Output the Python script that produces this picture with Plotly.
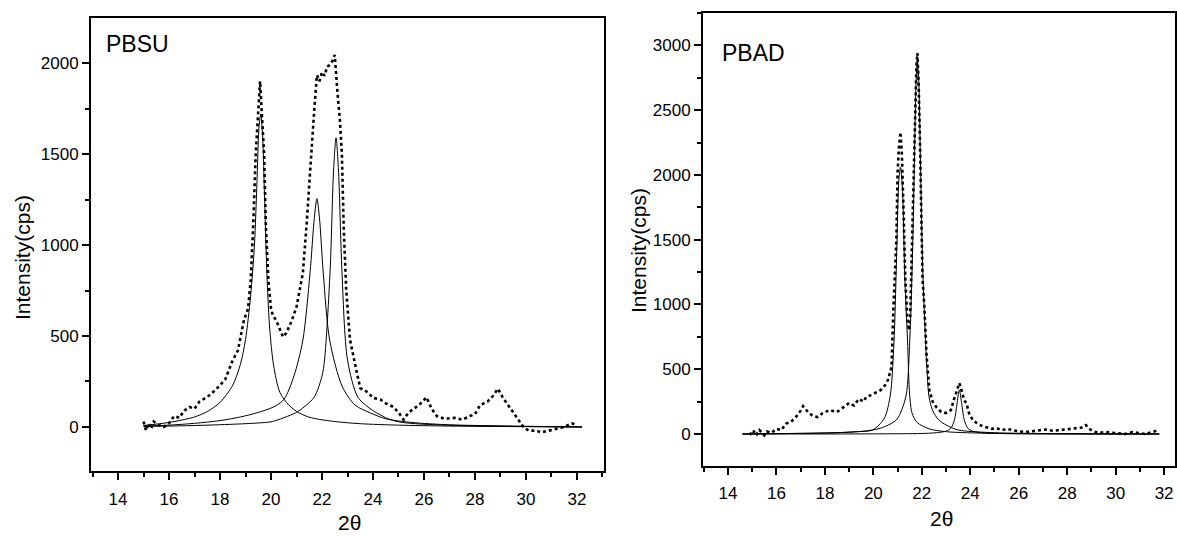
import plotly.graph_objects as go

# ---------------- PBSU (left panel) ----------------
pbsu_exp_x = [15.0, 15.1, 15.2, 15.3, 15.4, 15.5, 15.6, 15.8, 16.0, 16.2, 16.4, 16.6, 16.8, 17.0, 17.2,
              17.5, 17.8, 18.0, 18.2, 18.5, 18.7, 18.94, 19.1, 19.2, 19.3, 19.4, 19.48, 19.57, 19.65,
              19.73, 19.8, 19.9, 20.0, 20.08, 20.2, 20.35, 20.47, 20.6, 20.8, 21.0, 21.25, 21.4, 21.6,
              21.7, 21.8, 21.9, 22.0, 22.1, 22.2, 22.3, 22.4, 22.5, 22.6, 22.7, 22.78, 22.85, 22.95,
              23.1, 23.37, 23.5, 23.8, 24.0, 24.3, 24.5, 24.8, 25.0, 25.2, 25.4, 25.6, 25.8, 26.1,
              26.3, 26.5, 26.8, 27.2, 27.5, 27.8, 28.0, 28.2, 28.5, 28.7, 28.9, 29.1, 29.3, 29.5,
              29.7, 29.9, 30.1, 30.4, 30.6, 30.9, 31.2, 31.5, 31.8, 32.0]
pbsu_exp_y = [30, -20, 20, -10, 30, 20, 10, 0, 20, 60, 50, 90, 110, 100, 140,
              165, 200, 230, 260, 368, 420, 588, 650, 800, 1100, 1500, 1700, 1900, 1700,
              1500, 1100, 800, 650, 610, 588, 530, 495, 516, 580, 660, 846, 1121, 1577,
              1750, 1934, 1900, 1950, 1930, 1980, 1990, 2010, 2044, 1850, 1690, 1500, 1100, 750,
              478, 297, 214, 190, 160, 150, 130, 110, 80, 40, 80, 100, 120, 163,
              100, 60, 45, 50, 40, 60, 70, 120, 140, 170, 210, 160, 120, 80,
              40, 0, -20, -20, -30, -20, -10, 0, 20, 10]

pbsu_pk1_x = [15.0, 16.0, 17.0, 17.5, 18.0, 18.5, 18.8, 19.0, 19.2, 19.35, 19.45, 19.53, 19.6, 19.67,
              19.75, 19.85, 19.95, 20.1, 20.35, 20.7, 21.1, 21.6, 22.5, 23.5, 25.0, 27.0, 32.2]
pbsu_pk1_y = [8, 25, 55, 85, 135, 230, 345, 480, 720, 1000, 1350, 1650, 1720, 1600,
              1250, 800, 540, 340, 190, 120, 77, 50, 30, 18, 10, 5, 0]

pbsu_pk2_x = [15.0, 16.0, 17.0, 18.0, 18.8, 19.5, 20.1, 20.5, 20.9, 21.25, 21.53, 21.7, 21.8, 21.9,
              22.05, 22.3, 22.8, 23.3, 23.9, 24.5, 25.5, 27.0, 29.0, 32.2]
pbsu_pk2_y = [5, 10, 20, 35, 55, 80, 110, 150, 280, 478, 846, 1150, 1255, 1150,
              846, 478, 220, 120, 77, 45, 25, 12, 6, 0]

pbsu_pk3_x = [15.0, 17.0, 18.5, 19.5, 20.05, 20.95, 21.3, 21.7, 22.0, 22.1, 22.32, 22.45, 22.55,
              22.65, 22.78, 23.0, 23.4, 23.8, 24.15, 24.6, 25.06, 26.0, 28.0, 32.2]
pbsu_pk3_y = [3, 8, 15, 22, 30, 77, 110, 165, 280, 368, 863, 1400, 1590,
              1400, 863, 368, 165, 110, 77, 45, 27, 15, 6, 0]

# ---------------- PBAD (right panel) ----------------
pbad_exp_x = [14.9, 15.0, 15.1, 15.2, 15.3, 15.4, 15.5, 15.6, 15.8, 16.0, 16.2, 16.4, 16.6, 16.8, 17.0,
              17.1, 17.3, 17.5, 17.7, 17.9, 18.2, 18.5, 18.7, 19.0, 19.2, 19.4, 19.6, 19.7, 19.9,
              20.1, 20.3, 20.5, 20.6, 20.7, 20.75, 20.83, 20.95, 21.0, 21.05, 21.12, 21.18, 21.25,
              21.32, 21.4, 21.47, 21.52, 21.58, 21.65, 21.72, 21.78, 21.82, 21.87, 21.93, 21.98,
              22.03, 22.1, 22.2, 22.31, 22.45, 22.6, 22.8, 23.0, 23.2, 23.35, 23.5, 23.55, 23.65,
              23.75, 23.84, 23.95, 24.1, 24.3, 24.5, 24.66, 24.9, 25.07, 25.3, 25.5, 25.73, 26.0,
              26.3, 26.6, 26.9, 27.1, 27.4, 27.7, 28.0, 28.3, 28.6, 28.77, 28.9, 29.1, 29.3, 29.6,
              29.9, 30.2, 30.4, 30.7, 31.0, 31.2, 31.4, 31.6, 31.8]
pbad_exp_y = [10, -10, 30, 0, 30, 10, -10, 20, 10, 40, 30, 80, 93, 130, 180,
              215, 170, 140, 131, 160, 185, 170, 200, 239, 220, 270, 250, 285, 300,
              320, 339, 380, 417, 480, 517, 980, 1497, 2014, 2200, 2330, 2150, 1700,
              1200, 900, 800, 900, 1400, 2000, 2500, 2850, 2940, 2700, 2200, 1600,
              1200, 1000, 600, 339, 250, 208, 170, 162, 185, 280, 380, 393, 330,
              260, 239, 160, 108, 80, 60, 54, 40, 46, 30, 40, 31, 20,
              15, 20, 30, 35, 25, 30, 35, 40, 50, 69, 40, 20, 8, 15,
              10, 8, 0, 15, 8, 0, 10, 20, 31]

pbad_pk1_x = [14.6, 16.0, 17.5, 18.5, 19.3, 19.97, 20.45, 20.7, 20.85, 20.95, 21.05, 21.12, 21.2,
              21.3, 21.41, 21.5, 21.6, 21.8, 22.3, 23.0, 25.0, 31.8]
pbad_pk1_y = [0, 3, 6, 10, 18, 31, 120, 300, 700, 1300, 1950, 2060, 1900,
              1200, 725, 300, 160, 90, 40, 18, 5, 0]

pbad_pk2_x = [14.6, 16.0, 18.0, 19.5, 20.3, 20.95, 21.2, 21.37, 21.52, 21.63, 21.7, 21.76, 21.82,
              21.88, 21.94, 22.04, 22.2, 22.3, 22.45, 22.7, 23.0, 23.5, 25.0, 27.0, 31.8]
pbad_pk2_y = [0, 3, 8, 20, 45, 108, 200, 316, 800, 1500, 2150, 2700, 2880,
              2700, 2150, 1265, 548, 285, 180, 108, 70, 31, 10, 4, 0]

pbad_pk3_x = [14.6, 20.0, 22.0, 22.6, 23.0, 23.2, 23.35, 23.45, 23.55, 23.65, 23.75, 23.9, 24.1,
              24.6, 26.0, 31.8]
pbad_pk3_y = [0, 1, 4, 10, 22, 45, 110, 230, 340, 230, 110, 45, 22,
              8, 2, 0]

# ---------------- figure ----------------
FONT = "Liberation Sans, Arial, sans-serif"
fig = go.Figure()

dot_line = dict(color="black", width=2.6, dash="3px,3px")
fit_line = dict(color="black", width=1, shape="spline", smoothing=0.8)

fig.add_trace(go.Scatter(x=pbsu_exp_x, y=pbsu_exp_y, mode="lines", line=dot_line, xaxis="x", yaxis="y"))
for xs, ys in [(pbsu_pk1_x, pbsu_pk1_y), (pbsu_pk2_x, pbsu_pk2_y), (pbsu_pk3_x, pbsu_pk3_y)]:
    fig.add_trace(go.Scatter(x=xs, y=ys, mode="lines", line=fit_line, xaxis="x", yaxis="y"))

fig.add_trace(go.Scatter(x=pbad_exp_x, y=pbad_exp_y, mode="lines", line=dot_line, xaxis="x2", yaxis="y2"))
for xs, ys in [(pbad_pk1_x, pbad_pk1_y), (pbad_pk2_x, pbad_pk2_y), (pbad_pk3_x, pbad_pk3_y)]:
    fig.add_trace(go.Scatter(x=xs, y=ys, mode="lines", line=fit_line, xaxis="x2", yaxis="y2"))

W, H = 1177, 537

def axis_common():
    return dict(showgrid=False, zeroline=False, showline=True, linecolor="black", linewidth=2,
                mirror=True, ticks="outside", ticklen=7, tickwidth=1.5, tickcolor="black",
                tickfont=dict(family=FONT, size=17, color="black"))

xa = axis_common()
xa.update(domain=[91 / W, 604 / W], range=[12.94, 33.06], tickvals=list(range(14, 33, 2)),
          minor=dict(tickvals=list(range(13, 34, 2)), ticklen=4, tickcolor="black", tickwidth=1.5),
          ticklabelstandoff=5, anchor="y")
ya = axis_common()
ya.update(domain=[(H - 471) / H, (H - 18) / H], range=[-242, 2248], tickvals=[0, 500, 1000, 1500, 2000],
          minor=dict(tickvals=[-250, 250, 750, 1250, 1750, 2250], ticklen=4, tickcolor="black", tickwidth=1.5),
          anchor="x")
xa2 = axis_common()
xa2.update(domain=[703 / W, 1175 / W], range=[12.97, 32.45], tickvals=list(range(14, 33, 2)),
           minor=dict(tickvals=list(range(13, 33, 2)), ticklen=4, tickcolor="black", tickwidth=1.5),
           ticklabelstandoff=4, anchor="y2")
ya2 = axis_common()
ya2.update(domain=[(H - 466) / H, (H - 13) / H], range=[-247, 3250],
           tickvals=[0, 500, 1000, 1500, 2000, 2500, 3000],
           minor=dict(tickvals=[250, 750, 1250, 1750, 2250, 2750, 3250], ticklen=4, tickcolor="black", tickwidth=1.5),
           anchor="x2")

annotations = [
    dict(text="PBSU", x=104 / W, y=1 - 44 / H, xref="paper", yref="paper", xanchor="left", yanchor="middle",
         showarrow=False, font=dict(family=FONT, size=23, color="black")),
    dict(text="PBAD", x=720 / W, y=1 - 53 / H, xref="paper", yref="paper", xanchor="left", yanchor="middle",
         showarrow=False, font=dict(family=FONT, size=23, color="black")),
    dict(text="Intensity(cps)", x=22 / W, y=1 - 258 / H, xref="paper", yref="paper", xanchor="center",
         yanchor="middle", textangle=-90, showarrow=False, font=dict(family=FONT, size=21, color="black")),
    dict(text="Intensity(cps)", x=638 / W, y=1 - 250 / H, xref="paper", yref="paper", xanchor="center",
         yanchor="middle", textangle=-90, showarrow=False, font=dict(family=FONT, size=21, color="black")),
    dict(text="2θ", x=350 / W, y=1 - 522 / H, xref="paper", yref="paper", xanchor="center", yanchor="middle",
         showarrow=False, font=dict(family=FONT, size=21, color="black")),
    dict(text="2θ", x=941 / W, y=1 - 518 / H, xref="paper", yref="paper", xanchor="center", yanchor="middle",
         showarrow=False, font=dict(family=FONT, size=21, color="black")),
]

fig.update_layout(
    width=W, height=H, margin=dict(l=0, r=0, t=0, b=0),
    paper_bgcolor="white", plot_bgcolor="white", showlegend=False,
    xaxis=xa, yaxis=ya, xaxis2=xa2, yaxis2=ya2, annotations=annotations,
)

fig.write_html("out.html", config={"displayModeBar": False},
               post_script="document.body.style.margin='0px';document.body.style.overflow='hidden';")
